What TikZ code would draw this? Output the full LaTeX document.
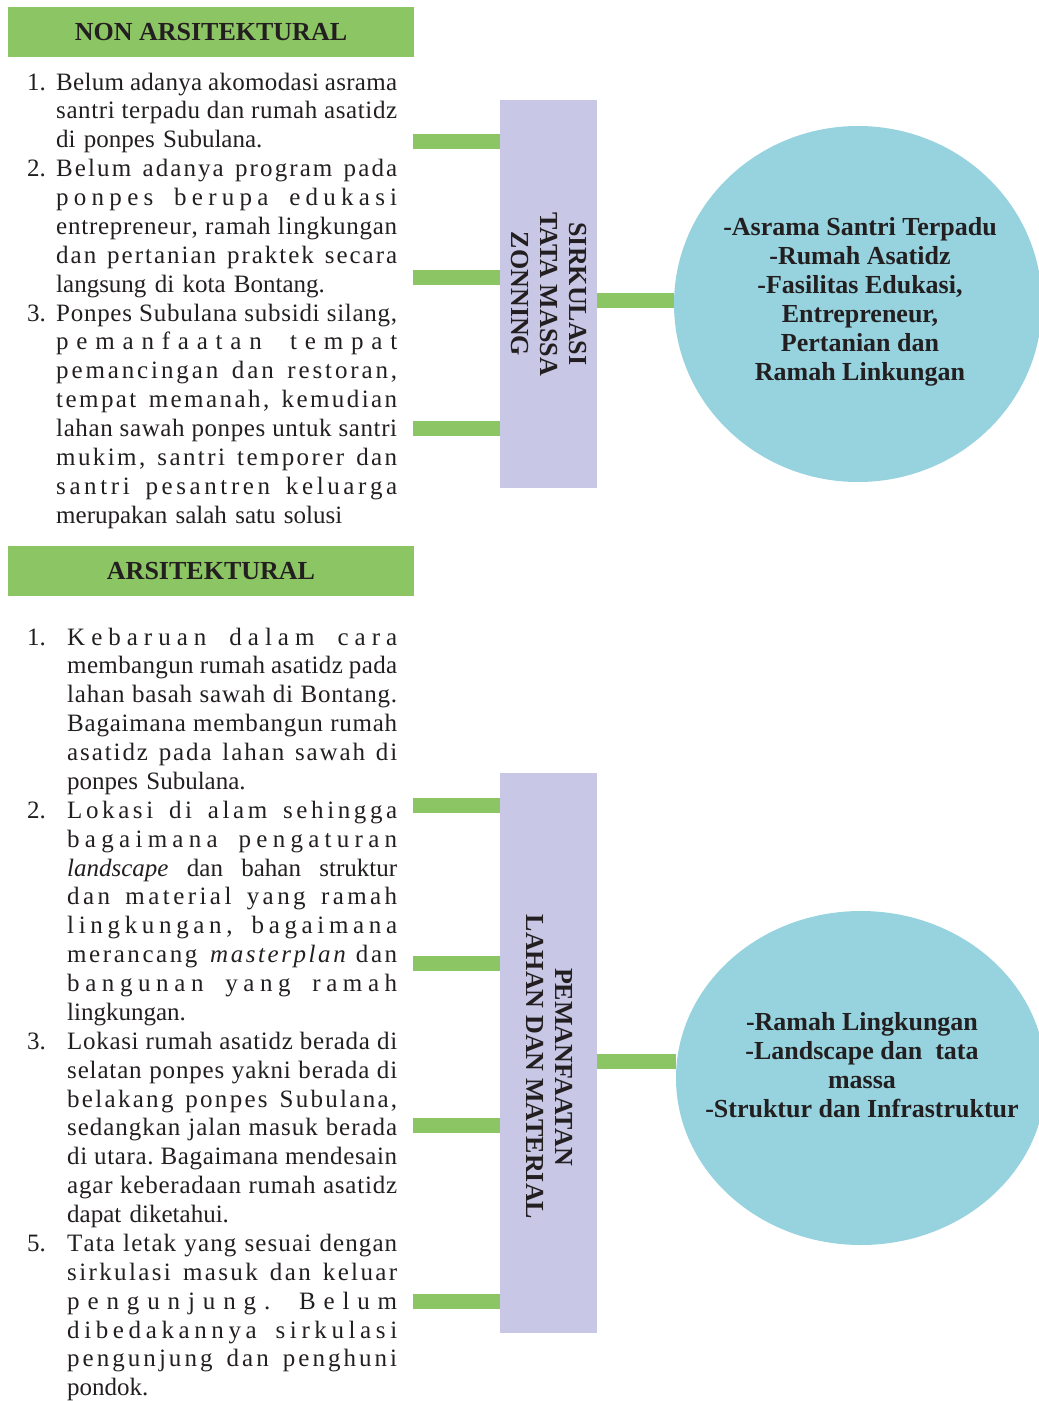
\documentclass[tikz,border=0pt]{standalone}
\usepackage{fontspec}
\setmainfont{Liberation Serif}
\usetikzlibrary{shapes.geometric}
\definecolor{hdrgreen}{HTML}{8CC563}
\definecolor{lav}{HTML}{C8C8E6}
\definecolor{cyanc}{HTML}{96D3DF}
\definecolor{ink}{HTML}{231F20}
\newlength\twd
\newlength\nwd
\def\LSend{}
\def\LSa#1{\ifx#1\LSend\else#1\hskip0pt plus 1fil\relax\expandafter\LSa\fi}
\def\JW#1 #2\JEnd{\LSa#1\LSend\ifx\relax#2\relax\else\hskip .2em plus 2fil minus .05em\relax\JW#2\JEnd\fi}
\newcommand\JJ[1]{\hbox to \twd{\JW#1 \JEnd\unskip}}
\newcommand\JL[2]{\noindent\hbox to\nwd{#1\hss}\JJ{#2}\par}
\newcommand\FL[2]{\noindent\hbox to\nwd{#1\hss}#2\par}
\begin{document}
\begin{tikzpicture}[x=1pt,y=-1pt,
  hdr/.style={rectangle, fill=hdrgreen, minimum width=406pt, minimum height=50pt, inner sep=0pt,
    text=ink, font=\bfseries\fontsize{26}{29}\selectfont},
  body/.style={text width=370pt, inner sep=0pt, text=ink, font=\fontsize{25}{28.875}\selectfont},
  lavbox/.style={rectangle, fill=lav, minimum width=97pt, inner sep=0pt},
  vtext/.style={rotate=-90, align=center, inner sep=0pt, text=ink, font=\bfseries\fontsize{26}{29}\selectfont},
  blob/.style={ellipse, fill=cyanc, inner sep=0pt},
  ctext/.style={align=center, inner sep=0pt, text=ink, font=\bfseries\fontsize{26}{29}\selectfont},
  conn/.style={draw=hdrgreen, line width=15pt}
]
\useasboundingbox (0,0) rectangle (1039,1401);
\clip (0,0) rectangle (1039,1401);

\node[hdr] (h1) at (211,32) {NON ARSITEKTURAL};
\node[hdr] (h2) at (211,571) {ARSITEKTURAL};

\node[body, anchor=base west] (t1) at (27,90) {\setlength\twd{341pt}\setlength\nwd{29pt}%
\JL{1.}{Belum adanya akomodasi asrama}
\JL{}{santri terpadu dan rumah asatidz}
\FL{}{di ponpes Subulana.}
\JL{2.}{Belum adanya program pada}
\JL{}{ponpes berupa edukasi}
\JL{}{entrepreneur, ramah lingkungan}
\JL{}{dan pertanian praktek secara}
\FL{}{langsung di kota Bontang.}
\JL{3.}{Ponpes Subulana subsidi silang,}
\JL{}{pemanfaatan tempat}
\JL{}{pemancingan dan restoran,}
\JL{}{tempat memanah, kemudian}
\JL{}{lahan sawah ponpes untuk santri}
\JL{}{mukim, santri temporer dan}
\JL{}{santri pesantren keluarga}
\FL{}{merupakan salah satu solusi}};

\node[body, anchor=base west] (t2) at (27,645) {\setlength\twd{330pt}\setlength\nwd{40pt}%
\JL{1.}{Kebaruan dalam cara}
\JL{}{membangun rumah asatidz pada}
\JL{}{lahan basah sawah di Bontang.}
\JL{}{Bagaimana membangun rumah}
\JL{}{asatidz pada lahan sawah di}
\FL{}{ponpes Subulana.}
\JL{2.}{Lokasi di alam sehingga}
\JL{}{bagaimana pengaturan}
\FL{}{\hbox to\twd{\textit{landscape}\hskip .25em plus 1fil dan\hskip .25em plus 1fil bahan\hskip .25em plus 1fil struktur}}
\JL{}{dan material yang ramah}
\JL{}{lingkungan, bagaimana}
\FL{}{\hbox to\twd{\LSa merancang\LSend\hskip .2em plus 2fil{\itshape\LSa masterplan\LSend\unskip}\hskip .2em plus 2fil\LSa dan\LSend\unskip}}
\JL{}{bangunan yang ramah}
\FL{}{lingkungan.}
\JL{3.}{Lokasi rumah asatidz berada di}
\JL{}{selatan ponpes yakni berada di}
\JL{}{belakang ponpes Subulana,}
\JL{}{sedangkan jalan masuk berada}
\JL{}{di utara. Bagaimana mendesain}
\JL{}{agar keberadaan rumah asatidz}
\FL{}{dapat diketahui.}
\JL{5.}{Tata letak yang sesuai dengan}
\JL{}{sirkulasi masuk dan keluar}
\JL{}{pengunjung. Belum}
\JL{}{dibedakannya sirkulasi}
\JL{}{pengunjung dan penghuni}
\FL{}{pondok.}};

\node[lavbox, minimum height=388pt] (b1) at (548.5,294) {};
\node[vtext] (v1) at (548.5,294) {SIRKULASI\\TATA MASSA\\ZONNING};
\node[lavbox, minimum height=560pt] (b2) at (548.5,1053) {};
\node[vtext] (v2) at (550,1067) {PEMANFAATAN\\LAHAN DAN MATERIAL};

\node[blob, minimum width=368pt, minimum height=356pt] (c1) at (858,304) {};
\node[ctext] (ct1) at (860,301.5) {-Asrama Santri Terpadu\\-Rumah Asatidz\\-Fasilitas Edukasi,\\Entrepreneur,\\Pertanian dan\\Ramah Linkungan};
\node[blob, minimum width=370pt, minimum height=334pt] (c2) at (861,1078) {};
\node[ctext] (ct2) at (862,1065.5) {-Ramah Lingkungan\\-Landscape dan\ \ tata\\massa\\-Struktur dan Infrastruktur};

\coordinate (a1) at (413,141);
\coordinate (a2) at (413,277);
\coordinate (a3) at (413,428);
\coordinate (r1) at (597,300);
\draw[conn] (a1) -- (a1 -| b1.west);
\draw[conn] (a2) -- (a2 -| b1.west);
\draw[conn] (a3) -- (a3 -| b1.west);
\draw[conn] (r1) -- (r1 -| c1.west);

\coordinate (d1) at (413,805);
\coordinate (d2) at (413,963);
\coordinate (d3) at (413,1125);
\coordinate (d4) at (413,1301);
\coordinate (r2) at (597,1061);
\draw[conn] (d1) -- (d1 -| b2.west);
\draw[conn] (d2) -- (d2 -| b2.west);
\draw[conn] (d3) -- (d3 -| b2.west);
\draw[conn] (d4) -- (d4 -| b2.west);
\draw[conn] (r2) -- (r2 -| c2.west);
\end{tikzpicture}
\end{document}
